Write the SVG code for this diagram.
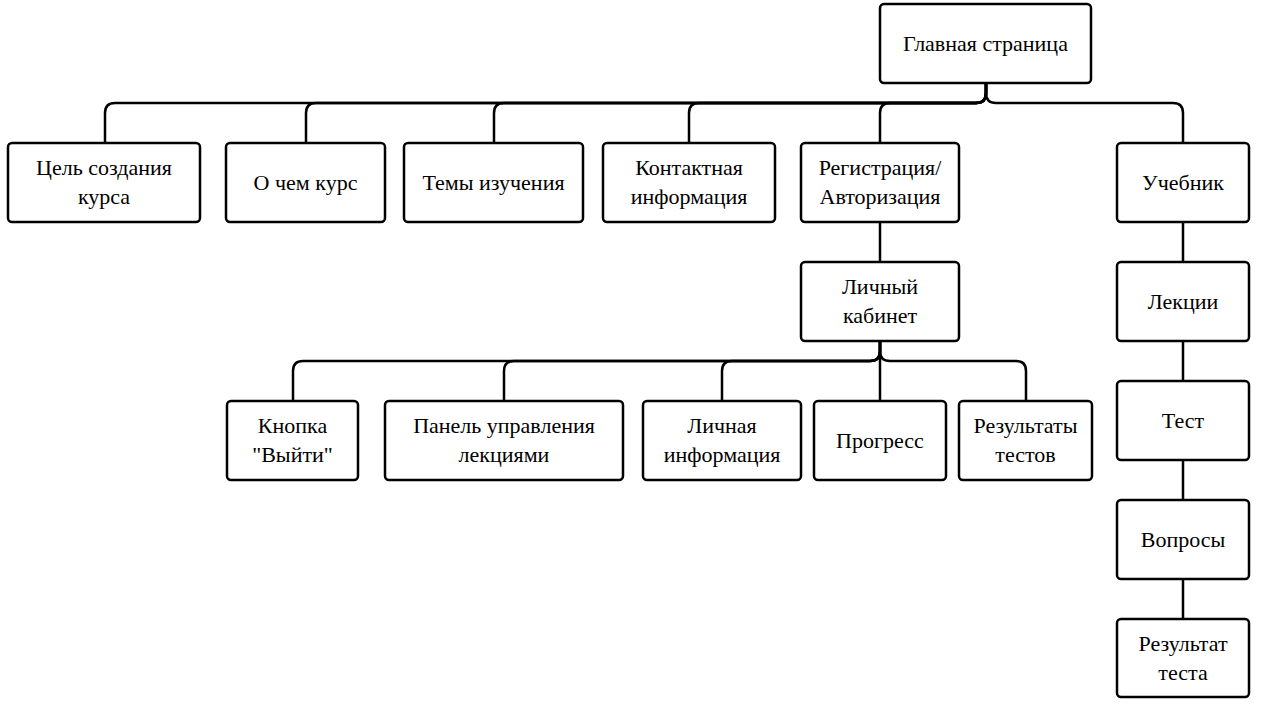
<svg xmlns="http://www.w3.org/2000/svg" width="1261" height="705" viewBox="0 0 1261 705">
<style>
.box{fill:#fff;stroke:#000;stroke-width:2.5}
.t{font-family:'Liberation Serif','Times New Roman','DejaVu Serif',serif;font-size:22px;fill:#000;text-anchor:middle}
.c{fill:none;stroke:#000;stroke-width:2.5}
</style>
<rect width="1261" height="705" fill="#fff"/>
<g id="connectors">
<path class="c" d="M986,83 V93 Q986,103 976,103 H115 Q105,103 105,113 V143"/>
<path class="c" d="M986,83 V93 Q986,103 976,103 H316 Q306,103 306,113 V143"/>
<path class="c" d="M986,83 V93 Q986,103 976,103 H504 Q494,103 494,113 V143"/>
<path class="c" d="M986,83 V93 Q986,103 976,103 H699 Q689,103 689,113 V143"/>
<path class="c" d="M986,83 V93 Q986,103 976,103 H890 Q880,103 880,113 V143"/>
<path class="c" d="M986,83 V93 Q986,103 996,103 H1173 Q1183,103 1183,113 V143"/>
<path class="c" d="M880,222 V262"/>
<path class="c" d="M880,341 V351 Q880,361 870,361 H303 Q293,361 293,371 V400"/>
<path class="c" d="M880,341 V351 Q880,361 870,361 H514 Q504,361 504,371 V400"/>
<path class="c" d="M880,341 V351 Q880,361 870,361 H732 Q722,361 722,371 V400"/>
<path class="c" d="M880,341 V400"/>
<path class="c" d="M880,341 V351 Q880,361 890,361 H1016 Q1026,361 1026,371 V400"/>
<path class="c" d="M1183,222 V262 M1183,341 V381 M1183,460 V500 M1183,579 V619"/>
</g>
<g id="main"><rect class="box" x="880" y="4" width="211" height="79" rx="4"/><text class="t" x="985.5" y="51">Главная страница</text></g>
<g id="goal"><rect class="box" x="8" y="143" width="192" height="79" rx="4"/><text class="t" x="104" y="175">Цель создания</text><text class="t" x="104" y="204">курса</text></g>
<g id="about"><rect class="box" x="226" y="143" width="159" height="79" rx="4"/><text class="t" x="305.5" y="190">О чем курс</text></g>
<g id="topics"><rect class="box" x="404" y="143" width="179" height="79" rx="4"/><text class="t" x="493.5" y="190">Темы изучения</text></g>
<g id="contacts"><rect class="box" x="603" y="143" width="172" height="79" rx="4"/><text class="t" x="689" y="175">Контактная</text><text class="t" x="689" y="204">информация</text></g>
<g id="auth"><rect class="box" x="801" y="143" width="158" height="79" rx="4"/><text class="t" x="880" y="175">Регистрация/</text><text class="t" x="880" y="204">Авторизация</text></g>
<g id="textbook"><rect class="box" x="1117" y="143" width="132" height="79" rx="4"/><text class="t" x="1183" y="190">Учебник</text></g>
<g id="cabinet"><rect class="box" x="801" y="262" width="158" height="79" rx="4"/><text class="t" x="880" y="294">Личный</text><text class="t" x="880" y="323">кабинет</text></g>
<g id="lectures"><rect class="box" x="1117" y="262" width="132" height="79" rx="4"/><text class="t" x="1183" y="309">Лекции</text></g>
<g id="test"><rect class="box" x="1117" y="381" width="132" height="79" rx="4"/><text class="t" x="1183" y="428">Тест</text></g>
<g id="questions"><rect class="box" x="1117" y="500" width="132" height="79" rx="4"/><text class="t" x="1183" y="547">Вопросы</text></g>
<g id="testresult"><rect class="box" x="1117" y="619" width="132" height="78" rx="4"/><text class="t" x="1183" y="651">Результат</text><text class="t" x="1183" y="680">теста</text></g>
<g id="logout"><rect class="box" x="227" y="401" width="131" height="79" rx="4"/><text class="t" x="292.5" y="433">Кнопка</text><text class="t" x="292.5" y="462">"Выйти"</text></g>
<g id="panel"><rect class="box" x="385" y="401" width="238" height="79" rx="4"/><text class="t" x="504" y="433">Панель управления</text><text class="t" x="504" y="462">лекциями</text></g>
<g id="personal"><rect class="box" x="643" y="401" width="158" height="79" rx="4"/><text class="t" x="722" y="433">Личная</text><text class="t" x="722" y="462">информация</text></g>
<g id="progress"><rect class="box" x="814" y="401" width="132" height="79" rx="4"/><text class="t" x="880" y="448">Прогресс</text></g>
<g id="results"><rect class="box" x="959" y="401" width="133" height="79" rx="4"/><text class="t" x="1025.5" y="433">Результаты</text><text class="t" x="1025.5" y="462">тестов</text></g>
</svg>
